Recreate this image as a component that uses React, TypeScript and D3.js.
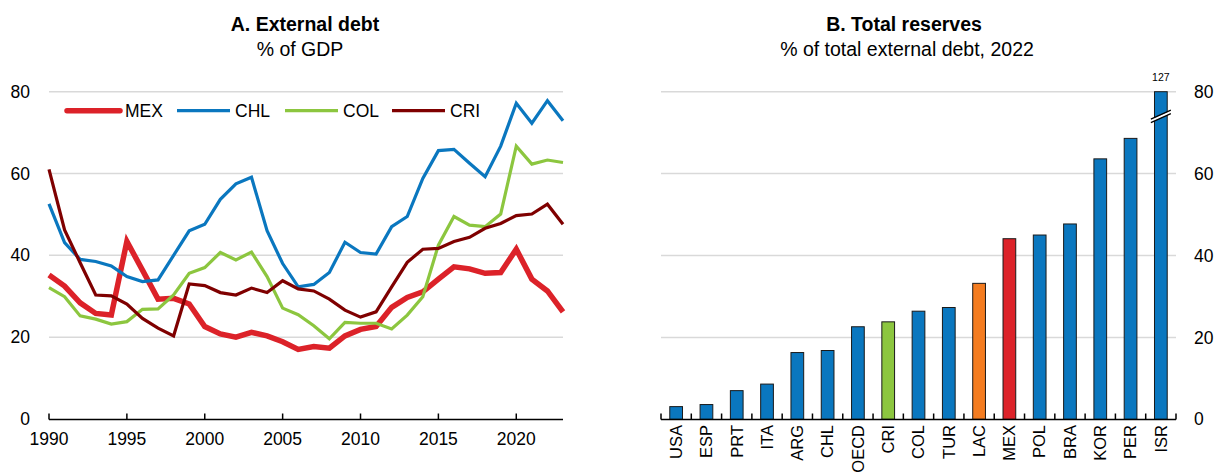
import React from "react";
import * as d3 from "d3";

// ---------- Panel A data ----------
const years: number[] = d3.range(1990, 2024);
const mexDebt = [35.2, 32.5, 28.4, 25.8, 25.4, 43.4, 36.4, 29.3, 29.5, 28.1, 22.6, 20.8, 20.0, 21.2, 20.3, 18.9, 17.0, 17.7, 17.3, 20.3, 21.9, 22.6, 27.3, 29.7, 31.1, 34.2, 37.2, 36.7, 35.6, 35.8, 41.5, 34.2, 31.3, 26.2];
const chlDebt = [52.6, 43.1, 39.0, 38.5, 37.4, 34.8, 33.6, 34.0, 40.0, 46.0, 47.6, 53.7, 57.5, 59.1, 46.0, 38.0, 32.3, 32.9, 35.8, 43.2, 40.7, 40.3, 47.0, 49.5, 58.8, 65.6, 65.9, 62.5, 59.2, 66.7, 77.2, 72.3, 77.8, 72.9];
const colDebt = [32.1, 29.9, 25.2, 24.4, 23.2, 23.8, 26.8, 26.9, 30.3, 35.6, 37.0, 40.7, 38.9, 40.8, 34.8, 27.1, 25.5, 22.8, 19.6, 23.6, 23.4, 23.4, 22.0, 25.4, 29.9, 42.5, 49.5, 47.4, 47.0, 50.1, 66.7, 62.3, 63.3, 62.7];
const criDebt = [61.0, 46.2, 38.2, 30.3, 30.1, 28.1, 24.6, 22.2, 20.3, 33.0, 32.6, 30.9, 30.3, 32.0, 30.9, 33.8, 31.8, 31.3, 29.3, 26.6, 24.9, 26.2, 32.3, 38.3, 41.5, 41.7, 43.4, 44.4, 46.6, 47.8, 49.7, 50.1, 52.5, 47.6];
const seriesNames = ["MEX", "CHL", "COL", "CRI"];
const yTicksA = [0, 20, 40, 60, 80];
const xTicksA = [1990, 1995, 2000, 2005, 2010, 2015, 2020];

// ---------- Panel B data ----------
const countries = ["USA", "ESP", "PRT", "ITA", "ARG", "CHL", "OECD", "CRI", "COL", "TUR", "LAC", "MEX", "POL", "BRA", "KOR", "PER", "ISR"];
const reserves = [3.1, 3.6, 7.0, 8.6, 16.3, 16.8, 22.6, 23.8, 26.4, 27.3, 33.2, 44.1, 45.0, 47.7, 63.6, 68.6, 127];
const yTicksB = [0, 20, 40, 60, 80];

const FONT = "'Liberation Sans', Arial, Helvetica, sans-serif";
const BLUE = "#0a77bf";
const RED = "#dc2229";
const GREEN = "#8cc63f";
const DARKRED = "#7f0000";
const ORANGE = "#f47c20";
const GRID = "#d9d9d9";

const seriesData = [mexDebt, chlDebt, colDebt, criDebt];
const seriesColors = [RED, BLUE, GREEN, DARKRED];
const seriesWidths = [5.5, 3.2, 3.2, 3.2];

function barColor(c: string): string {
  if (c === "MEX") return RED;
  if (c === "CRI") return GREEN;
  if (c === "LAC") return ORANGE;
  return BLUE;
}

export default function App() {
  // Panel A scales
  const xA = d3.scaleLinear().domain([1990, 2023]).range([49, 563]);
  const yA = d3.scaleLinear().domain([0, 80]).range([419, 91.7]);
  const line = d3
    .line<number>()
    .x((_, i) => xA(years[i]))
    .y((d) => yA(d));

  // Panel B scales
  const xB = d3.scaleBand<string>().domain(countries).range([661, 1176]).paddingInner(0.58).paddingOuter(0.29);
  const yB = d3.scaleLinear().domain([0, 80]).range([419.3, 91.7]).clamp(true);
  const stepB = xB.step();

  const legendX = [67, 177, 285, 392];
  const legendY = 110.7;

  const isrIdx = countries.indexOf("ISR");
  const isrX = xB("ISR")! + xB.bandwidth() / 2;
  const breakY = yB(73.8);

  return (
    <svg width={1218} height={474} style={{ position: "absolute", left: 0, top: 0, background: "#fff" }} fontFamily={FONT}>
      {/* Titles */}
      <text x={305} y={31} textAnchor="middle" fontSize={19.5} fontWeight="bold">A. External debt</text>
      <text x={300} y={56} textAnchor="middle" fontSize={19.5}>% of GDP</text>
      <text x={904} y={31} textAnchor="middle" fontSize={19.5} fontWeight="bold">B. Total reserves</text>
      <text x={907} y={56} textAnchor="middle" fontSize={19.5}>% of total external debt, 2022</text>

      {/* Panel A grid */}
      {yTicksA.filter((t) => t > 0).map((t) => (
        <line key={"ga" + t} x1={49} x2={563} y1={yA(t)} y2={yA(t)} stroke={GRID} strokeWidth={1.5} />
      ))}
      {yTicksA.map((t) => (
        <text key={"la" + t} x={30} y={yA(t)} dy="0.35em" textAnchor="end" fontSize={17.5}>{t}</text>
      ))}

      {/* Panel A lines */}
      {seriesData.map((s, i) => (
        <path key={"s" + i} d={line(s)!} fill="none" stroke={seriesColors[i]} strokeWidth={seriesWidths[i]} strokeLinejoin="miter" strokeMiterlimit={3} />
      ))}

      {/* Panel A axis */}
      <line x1={49} x2={563} y1={419.5} y2={419.5} stroke="#000" strokeWidth={1.5} />
      {xTicksA.map((t) => (
        <g key={"xt" + t}>
          <line x1={xA(t)} x2={xA(t)} y1={419.5} y2={413.5} stroke="#000" strokeWidth={1.5} />
          <text x={xA(t)} y={445} textAnchor="middle" fontSize={17.5}>{t}</text>
        </g>
      ))}

      {/* Legend */}
      {seriesNames.map((n, i) => (
        <g key={"lg" + n}>
          <line x1={legendX[i]} x2={legendX[i] + 53} y1={legendY} y2={legendY} stroke={seriesColors[i]} strokeWidth={seriesWidths[i]} strokeLinecap={i === 0 ? "round" : "butt"} />
          <text x={legendX[i] + 58} y={legendY} dy="0.35em" fontSize={17.5}>{n}</text>
        </g>
      ))}

      {/* Panel B grid */}
      {yTicksB.filter((t) => t > 0).map((t) => (
        <line key={"gb" + t} x1={661} x2={1176} y1={yB(t)} y2={yB(t)} stroke={GRID} strokeWidth={1.5} />
      ))}
      {yTicksB.map((t) => (
        <text key={"lb" + t} x={1194} y={yB(t)} dy="0.35em" textAnchor="start" fontSize={17.5}>{t}</text>
      ))}

      {/* Bars */}
      {countries.map((c, i) => (
        <rect key={"b" + c} x={xB(c)!} y={yB(reserves[i])} width={xB.bandwidth()} height={yB(0) - yB(reserves[i])} fill={barColor(c)} stroke="#1a1a1a" strokeWidth={1} />
      ))}

      {/* Break marker on ISR */}
      <g>
        <polygon
          points={`${isrX - 9},${breakY + 5} ${isrX + 9},${breakY - 3} ${isrX + 9},${breakY - 6} ${isrX - 9},${breakY + 2}`}
          fill="#fff"
        />
        <line x1={isrX - 10} x2={isrX + 10} y1={breakY + 5.5} y2={breakY - 3.5} stroke="#000" strokeWidth={1.2} />
        <line x1={isrX - 10} x2={isrX + 10} y1={breakY + 2} y2={breakY - 7} stroke="#000" strokeWidth={1.2} />
      </g>
      <text x={isrX} y={81} textAnchor="middle" fontSize={10.5}>{reserves[isrIdx]}</text>

      {/* Panel B axis */}
      <line x1={661} x2={1176} y1={419.5} y2={419.5} stroke="#000" strokeWidth={1.5} />
      {d3.range(countries.length + 1).map((i) => (
        <line key={"bt" + i} x1={661 + i * stepB} x2={661 + i * stepB} y1={419.5} y2={413.5} stroke="#000" strokeWidth={1.5} />
      ))}
      {countries.map((c) => (
        <text
          key={"bl" + c}
          transform={`translate(${xB(c)! + xB.bandwidth() / 2},${425}) rotate(-90)`}
          textAnchor="end"
          dy="0.35em"
          fontSize={16.5}
        >
          {c}
        </text>
      ))}
    </svg>
  );
}
